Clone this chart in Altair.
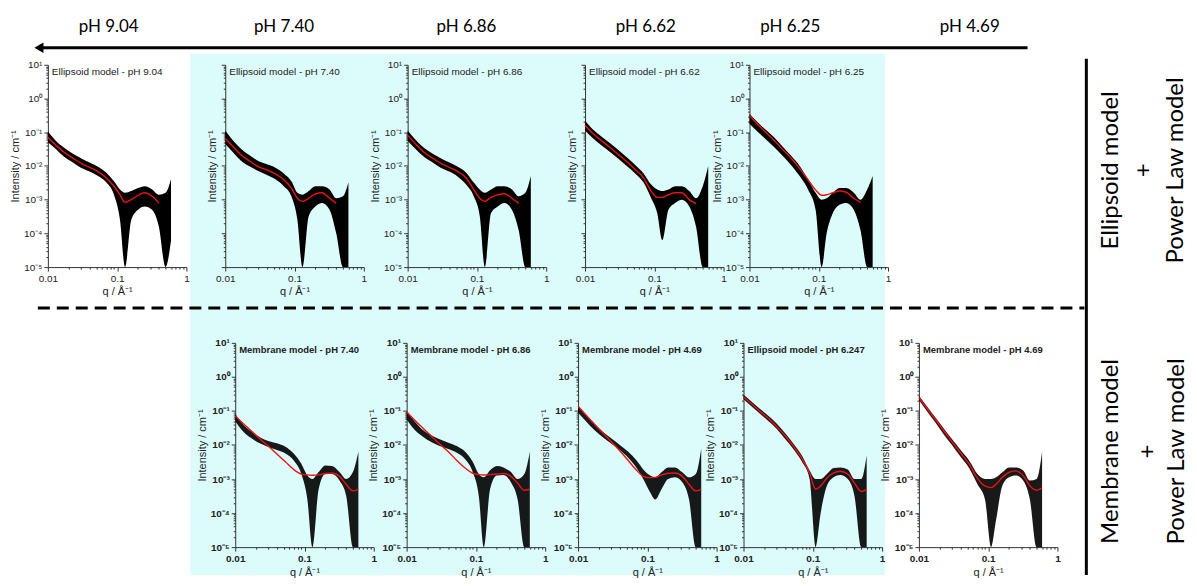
import altair as alt
import pandas as pd

# ---------------- data ----------------
Q = [0.010, 0.013, 0.017, 0.023, 0.030, 0.040, 0.053, 0.070, 0.090, 0.110,
     0.130, 0.160, 0.200, 0.250, 0.320, 0.400, 0.500, 0.600]

# top row : Ellipsoid model + power law
T1_HI = [0.105, 0.056, 0.035, 0.023, 0.017, 0.0126, 0.0095, 0.0063, 0.0035, 0.0020, 0.0016, 0.0018, 0.0022, 0.0025, 0.0020, 0.0014, 0.0016, 0.004]
T1_LO = [0.050, 0.032, 0.019, 0.0126, 0.0089, 0.0068, 0.005, 0.0032, 0.0014, 0.00025, 0.00001, 0.00025, 0.0005, 0.00063, 0.0005, 0.00016, 0.00001, 0.000063]
T1_FIT = [0.070, 0.042, 0.026, 0.017, 0.012, 0.0091, 0.0068, 0.0044, 0.0025, 0.0014, 0.00083, 0.0010, 0.00135, 0.0016, 0.00126, 0.00079, None, None]

T2_HI = [0.112, 0.056, 0.032, 0.020, 0.014, 0.0112, 0.0089, 0.006, 0.0035, 0.0016, 0.0014, 0.0018, 0.0025, 0.0025, 0.0020, 0.0011, 0.00126, 0.0032]
T2_LO = [0.045, 0.025, 0.014, 0.0095, 0.0071, 0.0054, 0.004, 0.0025, 0.00126, 0.00025, 0.00001, 0.00032, 0.00063, 0.0008, 0.0005, 0.0001, 0.00001, 0.00001]
T2_FIT = [0.065, 0.037, 0.021, 0.0135, 0.0095, 0.0076, 0.0058, 0.0039, 0.0022, 0.0011, 0.00089, 0.0011, 0.0015, 0.0016, 0.0011, 0.00079, None, None]

T3_HI = [0.112, 0.060, 0.035, 0.023, 0.017, 0.0126, 0.0095, 0.0063, 0.0032, 0.0020, 0.0016, 0.0020, 0.0025, 0.0025, 0.0020, 0.00126, 0.0016, 0.005]
T3_LO = [0.056, 0.032, 0.019, 0.0126, 0.0089, 0.0068, 0.0048, 0.0028, 0.00126, 0.00032, 0.00001, 0.0004, 0.00063, 0.0008, 0.0005, 0.000126, 0.00001, 0.00001]
T3_FIT = [0.081, 0.045, 0.026, 0.017, 0.012, 0.0091, 0.0068, 0.0044, 0.0020, 0.0011, 0.00089, 0.00117, 0.0014, 0.0015, 0.0011, 0.00079, None, None]

T4_HI = [0.224, 0.12, 0.076, 0.047, 0.030, 0.018, 0.0107, 0.006, 0.0028, 0.0020, 0.0018, 0.0020, 0.0025, 0.0025, 0.0018, 0.0011, 0.0025, 0.010]
T4_LO = [0.112, 0.066, 0.042, 0.026, 0.0166, 0.010, 0.006, 0.0032, 0.0011, 0.0004, 0.000063, 0.0005, 0.0008, 0.0010, 0.00063, 0.00016, 0.00001, 0.00001]
T4_FIT = [0.162, 0.091, 0.058, 0.035, 0.022, 0.0135, 0.0079, 0.0044, 0.0018, 0.00117, 0.00117, 0.0014, 0.0016, 0.0016, 0.0010, 0.00076, None, None]

T5_HI = [0.355, 0.20, 0.12, 0.068, 0.038, 0.020, 0.010, 0.004, 0.0016, 0.0010, 0.0011, 0.0016, 0.0022, 0.0022, 0.0016, 0.0010, 0.0020, 0.005]
T5_LO = [0.178, 0.105, 0.063, 0.035, 0.020, 0.0105, 0.005, 0.002, 0.0005, 0.00001, 0.0001, 0.0004, 0.0007, 0.0008, 0.0005, 0.000126, 0.00001, 0.00001]
T5_FIT = [0.32, 0.174, 0.102, 0.056, 0.031, 0.017, 0.0085, 0.0039, 0.00195, 0.00135, 0.0014, 0.0016, 0.0018, 0.00166, 0.0011, 0.00083, None, None]

# bottom row : Membrane / Ellipsoid model + power law
B1_HI = [0.083, 0.040, 0.025, 0.0166, 0.0132, 0.0112, 0.0089, 0.0056, 0.0028, 0.00126, 0.0010, 0.0016, 0.0025, 0.0024, 0.0016, 0.0010, 0.0016, 0.0063]
B1_LO = [0.050, 0.025, 0.016, 0.011, 0.0087, 0.0071, 0.0056, 0.0035, 0.0014, 0.00025, 0.00001, 0.0005, 0.0014, 0.0014, 0.0009, 0.00032, 0.00001, 0.00001]
B1_FIT = [0.071, 0.043, 0.026, 0.0148, 0.0093, 0.0054, 0.0032, 0.0019, 0.0014, 0.00132, 0.00129, 0.00132, 0.00145, 0.0015, 0.0012, 0.0007, 0.00045, 0.0005]

B2_HI = [0.10, 0.050, 0.028, 0.019, 0.0148, 0.0117, 0.0093, 0.0063, 0.0032, 0.0014, 0.00112, 0.0018, 0.0024, 0.0022, 0.0016, 0.0010, 0.0014, 0.0063]
B2_LO = [0.056, 0.028, 0.0178, 0.012, 0.0093, 0.0076, 0.0059, 0.0038, 0.0016, 0.00032, 0.00001, 0.0005, 0.00126, 0.00132, 0.0008, 0.00025, 0.00001, 0.00001]
B2_FIT = [0.093, 0.054, 0.032, 0.0178, 0.0107, 0.0063, 0.0035, 0.0021, 0.00148, 0.00135, 0.00132, 0.00135, 0.00141, 0.00145, 0.0012, 0.00076, 0.00047, 0.0005]

B3_HI = [0.141, 0.076, 0.043, 0.024, 0.0158, 0.010, 0.0063, 0.0035, 0.00178, 0.00126, 0.00112, 0.00158, 0.0022, 0.0022, 0.00158, 0.00112, 0.00141, 0.0079]
B3_LO = [0.089, 0.050, 0.028, 0.0166, 0.011, 0.0071, 0.0042, 0.0021, 0.00089, 0.0004, 0.00025, 0.0005, 0.0010, 0.00112, 0.0008, 0.00025, 0.00001, 0.00001]
B3_FIT = [0.138, 0.076, 0.042, 0.022, 0.0126, 0.0068, 0.0035, 0.0018, 0.00117, 0.0011, 0.00112, 0.00132, 0.00148, 0.0015, 0.0012, 0.0007, 0.00045, 0.0005]

B4_HI = [0.30, 0.19, 0.117, 0.071, 0.043, 0.022, 0.0107, 0.0048, 0.00178, 0.0010, 0.0010, 0.0014, 0.0021, 0.0022, 0.0019, 0.0010, 0.0010, 0.005]
B4_LO = [0.22, 0.138, 0.085, 0.050, 0.030, 0.015, 0.0074, 0.0032, 0.0010, 0.00001, 0.0001, 0.00063, 0.00112, 0.00132, 0.0010, 0.00032, 0.00001, 0.00001]
B4_FIT = [0.257, 0.162, 0.10, 0.060, 0.035, 0.0186, 0.0089, 0.0040, 0.00151, 0.0005, 0.00063, 0.00107, 0.00151, 0.0017, 0.00141, 0.00076, 0.00043, 0.0005]

B5_HI = [0.28, 0.138, 0.068, 0.030, 0.015, 0.0071, 0.0035, 0.0014, 0.0010, 0.0010, 0.00112, 0.00158, 0.0022, 0.0022, 0.00178, 0.0009, 0.0010, 0.0063]
B5_LO = [0.21, 0.10, 0.048, 0.020, 0.010, 0.0045, 0.0021, 0.0007, 0.00025, 0.00001, 0.000063, 0.00063, 0.00112, 0.00126, 0.0009, 0.00025, 0.00001, 0.00001]
B5_FIT = [0.245, 0.12, 0.059, 0.0257, 0.0126, 0.0058, 0.0028, 0.00105, 0.00063, 0.00056, 0.0007, 0.00112, 0.00158, 0.00174, 0.00126, 0.00063, 0.00047, 0.00054]

TOP_TITLES = ["Ellipsoid model - pH 9.04", "Ellipsoid model - pH 7.40", "Ellipsoid model - pH 6.86",
              "Ellipsoid model - pH 6.62", "Ellipsoid model - pH 6.25"]
BOTTOM_TITLES = ["Membrane model - pH 7.40", "Membrane model - pH 6.86", "Membrane model - pH 4.69",
                 "Ellipsoid model - pH 6.247", "Membrane model - pH 4.69"]
PH_LABELS = ["pH 9.04", "pH 7.40", "pH 6.86", "pH 6.62", "pH 6.25", "pH 4.69"]
SIDE_TOP = ["Ellipsoid model", "+", "Power Law model"]
SIDE_BOTTOM = ["Membrane model", "+", "Power Law model"]

X_TICKS = [0.01, 0.1, 1]
Y_TICKS = [1e-5, 1e-4, 1e-3, 1e-2, 1e-1, 1, 10]
X_MINOR = [0.02, 0.03, 0.04, 0.05, 0.06, 0.07, 0.08, 0.09, 0.2, 0.3, 0.4, 0.5, 0.6, 0.7, 0.8, 0.9]
Y_MINOR = [k * d for d in [1e-5, 1e-4, 1e-3, 1e-2, 1e-1, 1] for k in range(2, 10)]

# ---------------- layout constants (pixels) ----------------
PW, PH_TOP, PH_BOT = 139, 203, 205
TOP_GAPS = [37, 39, 44, 39, 26]
BOT_GAPS = [225, 33, 33, 27, 37]
HEADER_H = 56
ROW_GAP = 76
PH_X = [106, 282, 465, 645, 790, 970]
SIDE_X = [1112, 1145, 1177, 1112, 1149, 1178]
SIDE_Y = [170, 170, 170, 452, 452, 452]

XLAB = "datum.value < 0.05 ? '0.01' : datum.value < 0.5 ? '0.1' : '1'"
YLAB = ("datum.value > 5 ? '10\u00b9' : datum.value > 0.5 ? '10\u2070' : datum.value > 0.05 ? '10\u207b\u00b9' : "
        "datum.value > 0.005 ? '10\u207b\u00b2' : datum.value > 0.0005 ? '10\u207b\u00b3' : "
        "datum.value > 0.00005 ? '10\u207b\u2074' : '10\u207b\u2075'")

XS = alt.Scale(type="log", domain=[0.01, 1], nice=False)
YS = alt.Scale(type="log", domain=[1e-5, 10], nice=False)


def panel(title, hi, lo, fit, bottom, ylabels=True, height=PH_TOP):
    df = pd.DataFrame({"q": Q, "hi": hi, "lo": lo, "fit": fit})
    w = "bold" if bottom else "normal"
    ax_x = alt.Axis(values=X_TICKS, labelExpr=XLAB, title="q / \u00c5\u207b\u00b9", labelFlush=False,
                    tickSize=4, labelFontWeight=w, labelFontSize=10, titleFontSize=11, titlePadding=3)
    ax_y = alt.Axis(values=Y_TICKS, labelExpr=YLAB, title="Intensity / cm\u207b\u00b9", labels=ylabels,
                    tickSize=4, labelFontWeight=w, labelFontSize=10, titleFontSize=11, titlePadding=3,
                    labelFlush=False)
    band = alt.Chart(df).mark_area(color="black", interpolate="monotone",
                                   opacity=0.9 if bottom else 1.0).encode(
        x=alt.X("q:Q", scale=XS, axis=ax_x),
        y=alt.Y("hi:Q", scale=YS, axis=ax_y),
        y2="lo:Q",
    )
    line = alt.Chart(df).mark_line(color="#ee1111", strokeWidth=1.4, interpolate="monotone").encode(
        x=alt.X("q:Q", scale=XS, axis=None),
        y=alt.Y("fit:Q", scale=YS, axis=None),
    )
    minor = alt.Chart(df).mark_point(opacity=0).encode(
        x=alt.X("q:Q", scale=XS, axis=alt.Axis(values=X_MINOR, labels=False, tickSize=2, domain=False,
                                                title=None, orient="bottom")),
        y=alt.Y("hi:Q", scale=YS, axis=alt.Axis(values=Y_MINOR, labels=False, tickSize=2, domain=False,
                                                 title=None, orient="left")),
    )
    txt = alt.Chart(pd.DataFrame({"t": [title]})).mark_text(
        align="left", baseline="middle", font="Liberation Sans", fontSize=9.5 if bottom else 10,
        fontWeight="bold" if bottom else "normal", color="#222").encode(
        x=alt.value(4), y=alt.value(7), text="t:N")
    return alt.layer(band, line, minor, txt).resolve_axis(x="independent", y="independent").properties(
        width=PW, height=height)


def spacer(w, h=1):
    return alt.Chart(alt.Data(values=[{"a": 0}])).mark_point(opacity=0).properties(width=w, height=h)


top_data = [(T1_HI, T1_LO, T1_FIT, True), (T2_HI, T2_LO, T2_FIT, False), (T3_HI, T3_LO, T3_FIT, True),
            (T4_HI, T4_LO, T4_FIT, False), (T5_HI, T5_LO, T5_FIT, True)]
bot_data = [(B1_HI, B1_LO, B1_FIT), (B2_HI, B2_LO, B2_FIT), (B3_HI, B3_LO, B3_FIT),
            (B4_HI, B4_LO, B4_FIT), (B5_HI, B5_LO, B5_FIT)]

row1_items = []
for i, (hi, lo, fit, yl) in enumerate(top_data):
    row1_items.append(spacer(TOP_GAPS[i]))
    row1_items.append(panel(TOP_TITLES[i], hi, lo, fit, False, yl, PH_TOP))
row2_items = []
for i, (hi, lo, fit) in enumerate(bot_data):
    row2_items.append(spacer(BOT_GAPS[i]))
    row2_items.append(panel(BOTTOM_TITLES[i], hi, lo, fit, True, True, PH_BOT))

row1 = alt.hconcat(*row1_items, spacing=0, bounds="flush")
row2 = alt.hconcat(*row2_items, spacing=0, bounds="flush")

# ---------------- header / decorations in page coordinates ----------------
FX = alt.Scale(domain=[8, 1185], range=[0, 1177], nice=False, zero=False)
FY = alt.Scale(domain=[8, 578], range=[0, 570], nice=False, zero=False)


def fx(f):
    return alt.X(f, type="quantitative", scale=FX, axis=None)


def fy(f):
    return alt.Y(f, type="quantitative", scale=FY, axis=None)


bg = alt.Chart(pd.DataFrame({"x": [8], "x2": [1185], "y": [8], "y2": [576]})).mark_rect(
    fill="white").encode(x=fx("x"), x2="x2", y=fy("y"), y2="y2")
cyan = alt.Chart(pd.DataFrame({"x": [188], "x2": [885], "y": [53], "y2": [576]})).mark_rect(
    fill="#dcfcfc").encode(x=fx("x"), x2="x2", y=fy("y"), y2="y2")
arrow = alt.Chart(pd.DataFrame({"x": [38], "x2": [1028], "y": [47]})).mark_rule(
    strokeWidth=3, color="black").encode(x=fx("x"), x2="x2", y=fy("y"))
head = alt.Chart(pd.DataFrame({"x": [36], "y": [47]})).mark_point(
    shape="triangle-left", filled=True, size=110, color="black", opacity=1).encode(x=fx("x"), y=fy("y"))
phlab = alt.Chart(pd.DataFrame({"x": PH_X, "y": [26] * 6, "t": PH_LABELS})).mark_text(
    font="Lato", fontSize=17, color="black").encode(x=fx("x"), y=fy("y"), text="t:N")
dash = alt.Chart(pd.DataFrame({"x": [35], "x2": [1085], "y": [308]})).mark_rule(
    strokeWidth=3, color="black", strokeDash=[12, 7]).encode(x=fx("x"), x2="x2", y=fy("y"))
vline = alt.Chart(pd.DataFrame({"x": [1087], "y": [58], "y2": [576]})).mark_rule(
    strokeWidth=3, color="black").encode(x=fx("x"), y=fy("y"), y2="y2")
side = alt.Chart(pd.DataFrame({"x": SIDE_X, "y": SIDE_Y, "t": SIDE_TOP + SIDE_BOTTOM})).mark_text(
    font="Lato", fontSize=24, angle=270, color="black").encode(x=fx("x"), y=fy("y"), text="t:N")

header = alt.layer(bg, cyan, arrow, head, phlab, dash, vline, side).properties(width=1177, height=HEADER_H)

# nested concat rows occupy no height in a flush layout, so the spacer carries row 1's height too
chart = alt.vconcat(header, row1, spacer(1, PH_TOP + ROW_GAP), row2, spacing=0, bounds="flush").properties(
    padding=0
).configure_view(stroke=None).configure_axis(
    grid=False, labelFont="Liberation Sans", titleFont="Liberation Sans", labelColor="#222",
    titleColor="#222", domainColor="#333", tickColor="#333", titleFontWeight="normal"
)

chart.save("out.html", embed_options={"renderer": "svg", "actions": False})
